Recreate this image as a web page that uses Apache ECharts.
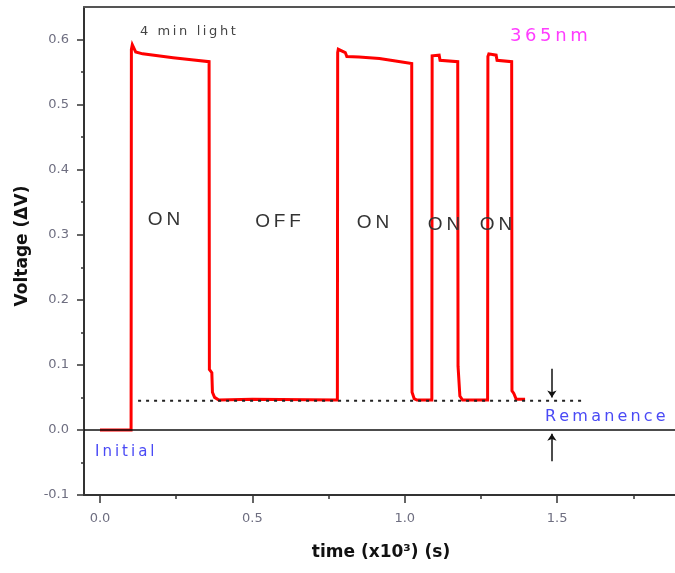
<!DOCTYPE html>
<html>
<head>
<meta charset="utf-8">
<script src="https://cdn.jsdelivr.net/npm/echarts@6/dist/echarts.min.js"></script>
<style>html,body{margin:0;padding:0;background:#fff}#c{width:675px;height:573px}</style>
</head>
<body>
<div id="c"></div>
<script>
// ---- data ----
const timeValues = [0, 0.102, 0.103, 0.106, 0.117, 0.14, 0.19, 0.24, 0.30, 0.358, 0.359, 0.367, 0.369, 0.376, 0.39, 0.5, 0.779,
  0.78, 0.782, 0.805, 0.81, 0.85, 0.917, 0.92, 0.97, 0.975, 1.023, 1.024, 1.031, 1.04, 1.089,
  1.09, 1.093, 1.113, 1.116, 1.174, 1.175, 1.18, 1.181, 1.19, 1.272,
  1.273, 1.276, 1.3, 1.303, 1.351, 1.352, 1.358, 1.366, 1.395];
const voltageValues = [0, 0, 0.585, 0.592, 0.581, 0.578, 0.575, 0.572, 0.569, 0.566, 0.093, 0.088, 0.058, 0.050, 0.046, 0.047, 0.046,
  0.58, 0.585, 0.580, 0.574, 0.573, 0.571, 0.568, 0.567, 0.564, 0.563, 0.058, 0.048, 0.046, 0.046,
  0.575, 0.578, 0.576, 0.568, 0.566, 0.098, 0.096, 0.052, 0.046, 0.046,
  0.574, 0.578, 0.576, 0.568, 0.566, 0.06, 0.056, 0.047, 0.047];
const remanenceLevel = 0.045;
const remanenceSpan = [0.125, 1.585];
const arrowTime = 1.483;
const arrowDown = [0.094, 0.05];
const arrowUp = [-0.048, -0.006];
const xMajorTicks = [0, 0.5, 1.0, 1.5];
const xMinorTicks = [0.25, 0.75, 1.25, 1.75];
const yMajorTicks = [-0.1, 0, 0.1, 0.2, 0.3, 0.4, 0.5, 0.6];
const yMinorTicks = [-0.05, 0.05, 0.15, 0.25, 0.35, 0.45, 0.55];

const sp = s => s.split('').join('\u2009');
const chart = echarts.init(document.getElementById('c'), null, {renderer: 'canvas'});
const xMin = -0.0525, xMax = 1.887, yMin = -0.1, yMax = 0.65;
const labelColor = '#6e6e80';
const axisCol = '#333';

function txt(x, y, text, font, fill, align, rot) {
  return {type: 'text', x: x, y: y, rotation: rot || 0, z: 100,
    style: {text: text, font: font, fill: fill, align: align || 'left', verticalAlign: 'middle',
      textAlign: align || 'left', textVerticalAlign: 'middle'}};
}

chart.setOption({
  animation: false,
  backgroundColor: '#fff',
  grid: {left: 84, right: 0, top: 7, bottom: 78, containLabel: false},
  xAxis: [
    {type: 'value', min: xMin, max: xMax, position: 'bottom', splitLine: {show: false},
      axisLine: {show: true, onZero: false, lineStyle: {color: axisCol, width: 2}},
      axisTick: {show: true, customValues: xMajorTicks, length: 8, lineStyle: {color: axisCol, width: 1.5}},
      axisLabel: {customValues: xMajorTicks, margin: 17, color: labelColor, fontFamily: 'DejaVu Sans', fontSize: 13,
        formatter: v => v.toFixed(1)}},
    {type: 'value', min: xMin, max: xMax, position: 'bottom', splitLine: {show: false},
      axisLine: {show: false, onZero: false},
      axisTick: {show: true, customValues: xMinorTicks, length: 4, lineStyle: {color: axisCol, width: 1.5}},
      axisLabel: {show: false}},
    {type: 'value', min: xMin, max: xMax, position: 'top', splitLine: {show: false},
      axisLine: {show: true, onZero: false, lineStyle: {color: '#555', width: 2}},
      axisTick: {show: false}, axisLabel: {show: false}}
  ],
  yAxis: [
    {type: 'value', min: yMin, max: yMax, position: 'left', splitLine: {show: false},
      axisLine: {show: true, onZero: false, lineStyle: {color: axisCol, width: 2}},
      axisTick: {show: true, customValues: yMajorTicks, length: 7, lineStyle: {color: axisCol, width: 1.5}},
      axisLabel: {customValues: yMajorTicks, margin: 15, color: labelColor, fontFamily: 'DejaVu Sans', fontSize: 13,
        formatter: v => v.toFixed(1)}},
    {type: 'value', min: yMin, max: yMax, position: 'left', splitLine: {show: false},
      axisLine: {show: false, onZero: false},
      axisTick: {show: true, customValues: yMinorTicks, length: 3, lineStyle: {color: axisCol, width: 1.5}},
      axisLabel: {show: false}}
  ],
  series: [
    {type: 'line', xAxisIndex: 0, yAxisIndex: 0, z: 1, data: [], silent: true,
      markLine: {silent: true, symbol: 'none', label: {show: false},
        lineStyle: {color: '#111', width: 1.5, type: 'solid'},
        data: [{yAxis: 0}]}},
    {type: 'line', xAxisIndex: 0, yAxisIndex: 0, z: 3, showSymbol: false, silent: true,
      lineStyle: {color: '#ff0000', width: 3, join: 'miter'},
      data: timeValues.map((t, i) => [t, voltageValues[i]])},
    {type: 'line', xAxisIndex: 0, yAxisIndex: 0, z: 4, showSymbol: false, silent: true,
      lineStyle: {color: '#222', width: 2, type: [3, 5]},
      data: remanenceSpan.map(t => [t, remanenceLevel]),
      markLine: {silent: true, symbol: ['none', 'arrow'], symbolSize: 7, label: {show: false},
        lineStyle: {color: '#111', width: 1.5, type: 'solid'},
        data: [
          [{coord: [arrowTime, arrowDown[0]]}, {coord: [arrowTime, arrowDown[1]]}],
          [{coord: [arrowTime, arrowUp[0]]}, {coord: [arrowTime, arrowUp[1]]}]
        ]}}
  ],
  graphic: [
    txt(140, 32, sp('4 min light'), '13px "DejaVu Sans"', '#444'),
    txt(510, 36, sp('365nm'), '18px "DejaVu Sans"', '#ff3cff'),
    txt(164, 220, sp('ON'), '19px "Liberation Sans"', '#333', 'center'),
    txt(278, 222, sp('OFF'), '19px "Liberation Sans"', '#333', 'center'),
    txt(373, 223, sp('ON'), '19px "Liberation Sans"', '#333', 'center'),
    txt(444, 225, sp('ON'), '19px "Liberation Sans"', '#333', 'center'),
    txt(496, 225, sp('ON'), '19px "Liberation Sans"', '#333', 'center'),
    txt(95, 452, sp('Initial'), '15px "DejaVu Sans"', '#4a4af5'),
    txt(545, 417, sp('Remanence'), '16px "DejaVu Sans"', '#4a4af5'),
    txt(23, 246, 'Voltage (ΔV)', 'bold 17px "DejaVu Sans"', '#111', 'center', Math.PI / 2),
    txt(381, 553, 'time (x10³) (s)', 'bold 17px "DejaVu Sans"', '#111', 'center')
  ]
});
</script>
</body>
</html>
